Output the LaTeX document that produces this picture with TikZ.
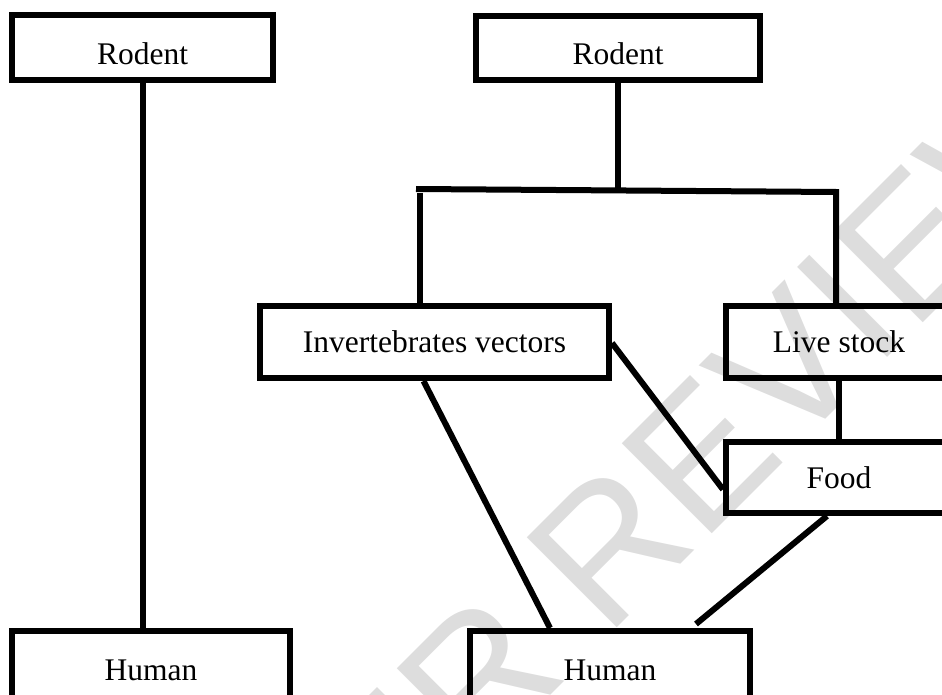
\documentclass[tikz,border=0pt]{standalone}
\usepackage{fontspec}
\setmainfont{Liberation Serif}
\newfontfamily\wmfont{Liberation Sans}
\definecolor{wmgray}{HTML}{DDDDDD}
\tikzset{
  box/.style={draw, line width=6pt, inner sep=0pt, font=\fontsize{31.5}{38}\selectfont},
  rodentbox/.style={box, text height=34pt, text depth=0pt},
  link/.style={line width=6pt},
}
\begin{document}
\begin{tikzpicture}[x=1pt,y=-1pt]
  \useasboundingbox (0,0) rectangle (942,695);
  \clip (0,0) rectangle (942,695);

% watermark
\node[rotate=45, text=wmgray, font=\wmfont\fontsize{185}{190}\selectfont, text height=132pt, text depth=0pt, inner sep=0pt] (wm) at (622,530) {PEER REVIEW};


\node[rodentbox, minimum width=261pt, minimum height=65pt] (lr) at (142.5,47.5) {Rodent};
\node[rodentbox, minimum width=284pt, minimum height=64pt] (rr) at (618,48) {Rodent};


\node[box, minimum width=349pt, minimum height=72pt] (iv) at (434.5,342) {Invertebrates vectors};
\node[box, minimum width=226pt, minimum height=72pt] (ls) at (839,342) {Live stock};
\node[box, minimum width=226pt, minimum height=71pt] (fd) at (839,477.5) {Food};


\node[box, minimum width=278pt, minimum height=78pt] (lh) at (151,670) {Human};
\node[box, minimum width=280pt, minimum height=78pt] (rh) at (610,670) {Human};


  \coordinate (jn) at (618,190.5);
  \coordinate (hl) at (416,189);
  \coordinate (hr) at (836,192);
  \coordinate (dl) at (420,193);
  \draw[link] (lr.south) -- (lr.south |- lh.north);
  \draw[link] (rr.south) -- (jn);
  \draw[link] (hl) -- (hr) -- (hr |- ls.north);
  \draw[link] (dl) -- (dl |- iv.north);
  \draw[link] (ls.south) -- (fd.north);
  \draw[link] ([xshift=-11pt]iv.south) -- ([xshift=-60pt]rh.north);
  \draw[link] ([yshift=-1pt]iv.east) -- ([yshift=-12pt]fd.west);
  \draw[link] ([xshift=-12pt]fd.south) -- ([xshift=86pt,yshift=4pt]rh.north);
\end{tikzpicture}
\end{document}
